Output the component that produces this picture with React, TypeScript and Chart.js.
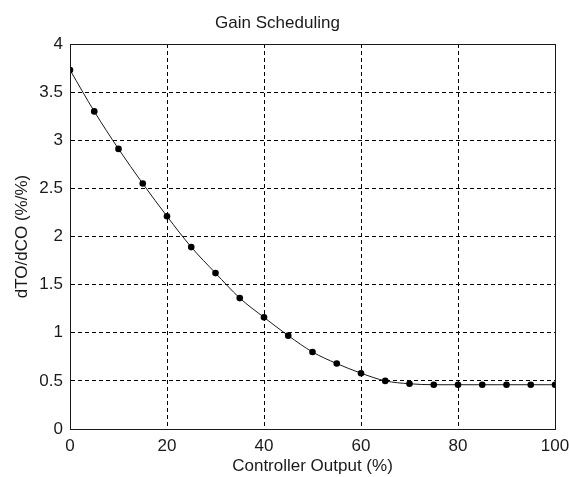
import React, { useEffect, useRef } from "react";
import { Chart, registerables } from "chart.js";

Chart.register(...registerables);

// Controller output (%) and the process gain dTO/dCO (%/%) at each point
const controllerOutput = [0, 5, 10, 15, 20, 25, 30, 35, 40, 45, 50, 55, 60, 65, 70, 75, 80, 85, 90, 95, 100];
const gain = [3.73, 3.30, 2.91, 2.55, 2.21, 1.89, 1.62, 1.36, 1.16, 0.97, 0.80, 0.68, 0.58, 0.50, 0.47, 0.46, 0.46, 0.46, 0.46, 0.46, 0.46];

const xTicks = [0, 20, 40, 60, 80, 100];
const yTicks = [0, 0.5, 1, 1.5, 2, 2.5, 3, 3.5, 4];

const titleText = "Gain Scheduling";
const xTitle = "Controller Output (%)";
const yTitle = "dTO/dCO (%/%)";

const FONT = "'Liberation Sans', Arial, Helvetica, sans-serif";
const INK = "#1a1a1a";

// Solid frame around the plotting area (axes box)
const boxPlugin = {
  id: "axesBox",
  afterDatasetsDraw(chart: any) {
    const { ctx, chartArea } = chart;
    ctx.save();
    ctx.strokeStyle = INK;
    ctx.lineWidth = 1;
    ctx.setLineDash([]);
    ctx.strokeRect(
      Math.round(chartArea.left) + 0.5,
      Math.round(chartArea.top) + 0.5,
      Math.round(chartArea.right - chartArea.left),
      Math.round(chartArea.bottom - chartArea.top)
    );
    ctx.restore();
  },
};

export default function App() {
  const canvasRef = useRef<HTMLCanvasElement | null>(null);

  useEffect(() => {
    document.body.style.margin = "0";
    const canvas = canvasRef.current;
    if (!canvas) return;

    const chart = new Chart(canvas, {
      type: "line",
      data: {
        datasets: [
          {
            data: controllerOutput.map((x, i) => ({ x, y: gain[i] })),
            borderColor: INK,
            borderWidth: 1,
            backgroundColor: "#000",
            pointBackgroundColor: "#000",
            pointBorderColor: "#000",
            pointRadius: 3.3,
            pointBorderWidth: 0,
            cubicInterpolationMode: "monotone",
            fill: false,
          },
        ],
      },
      options: {
        responsive: false,
        animation: false,
        events: [],
        layout: { padding: { left: 0, right: 15, top: 0, bottom: 0 } },
        plugins: {
          legend: { display: false },
          tooltip: { enabled: false },
          title: {
            display: true,
            text: titleText,
            color: INK,
            font: { family: FONT, size: 17, weight: "normal", lineHeight: 1.2 },
            padding: { top: 12.8, bottom: 10.8 },
          },
        },
        scales: {
          x: {
            type: "linear",
            min: 0,
            max: 100,
            afterFit(scale: any) {
              scale.height = 48;
              scale.paddingLeft = 0;
              scale.paddingRight = 0;
            },
            afterBuildTicks(scale: any) {
              scale.ticks = xTicks.map((v) => ({ value: v }));
            },
            ticks: {
              color: INK,
              font: { family: FONT, size: 17 },
              padding: 7,
              maxRotation: 0,
              callback: (v: any) => String(v),
            },
            grid: {
              color: "#000",
              lineWidth: 1,
              drawTicks: false,
            },
            // dash here sets the dashed grid lines
            border: { display: true, color: INK, width: 1, dash: [4, 3] },
            title: {
              display: true,
              text: xTitle,
              color: INK,
              font: { family: FONT, size: 17 },
              padding: { top: 0, bottom: 0 },
            },
          },
          y: {
            type: "linear",
            min: 0,
            max: 4,
            afterFit(scale: any) {
              scale.width = 70;
              scale.paddingTop = 0;
              scale.paddingBottom = 0;
            },
            afterBuildTicks(scale: any) {
              scale.ticks = yTicks.map((v) => ({ value: v }));
            },
            ticks: {
              color: INK,
              font: { family: FONT, size: 17 },
              padding: 7,
              callback: (v: any) => String(v),
            },
            grid: {
              color: "#000",
              lineWidth: 1,
              drawTicks: false,
            },
            border: { display: true, color: INK, width: 1, dash: [4, 3] },
            title: {
              display: true,
              text: yTitle,
              color: INK,
              font: { family: FONT, size: 17 },
              padding: { top: 12, bottom: 0 },
            },
          },
        },
      },
      plugins: [boxPlugin],
    } as any);

    return () => chart.destroy();
  }, []);

  return (
    <div style={{ width: 570, height: 477, background: "#fff" }}>
      <canvas ref={canvasRef} width={570} height={477} style={{ display: "block" }} />
    </div>
  );
}
